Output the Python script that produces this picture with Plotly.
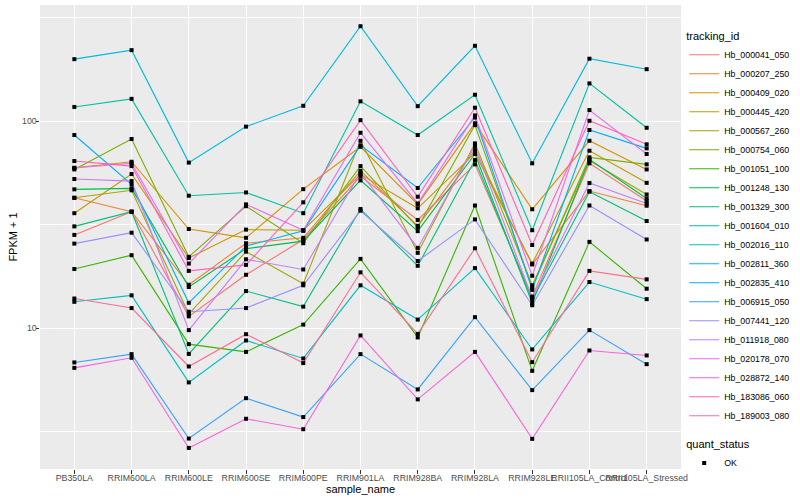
import plotly.graph_objects as go

samples = ["PB350LA", "RRIM600LA", "RRIM600LE", "RRIM600SE", "RRIM600PE", "RRIM901LA",
           "RRIM928BA", "RRIM928LA", "RRIM928LE", "RRII105LA_Control", "RRII105LA_Stressed"]

# FPKM + 1 values
Hb_000041_050 = [28.2, 36.5, 11.4, 18.1, 26.8, 54.1, 33.3, 61.8, 14.2, 62.5, 41.1]
Hb_000207_250 = [42.6, 36.5, 16.2, 25.7, 27.3, 57.5, 31.2, 72.4, 20.3, 45.9, 39.0]
Hb_000409_020 = [59.5, 63.6, 30.1, 27.3, 46.9, 75.1, 39.6, 97.5, 37.5, 80.3, 58.4]
Hb_000445_420 = [35.9, 55.5, 21.8, 29.9, 29.7, 55.3, 37.9, 70.0, 20.5, 71.9, 50.3]
Hb_000567_260 = [42.6, 46.3, 11.7, 23.4, 16.4, 80.3, 23.1, 78.0, 16.1, 64.4, 44.2]
Hb_000754_060 = [58.4, 81.9, 22.1, 38.8, 25.7, 60.6, 30.7, 95.6, 15.7, 66.8, 61.8]
Hb_001051_100 = [19.3, 22.5, 8.37, 7.68, 10.4, 21.6, 9.02, 39.1, 6.22, 26.1, 15.5]
Hb_001248_130 = [46.8, 47.3, 15.8, 24.2, 26.3, 51.7, 29.4, 69.3, 13.2, 65.3, 42.3]
Hb_001329_300 = [31.0, 36.5, 7.51, 15.1, 12.7, 37.6, 20.0, 64.8, 13.7, 45.6, 32.9]
Hb_001604_010 = [117, 128, 43.6, 45.2, 35.9, 124.5, 85.6, 134, 29.7, 152, 92.8]
Hb_002016_110 = [13.4, 14.4, 5.47, 8.72, 7.14, 16.1, 11.0, 19.5, 7.89, 16.7, 13.8]
Hb_002811_360 = [199, 220, 63.0, 94.0, 118.5, 287, 118, 231, 62.5, 200, 178]
Hb_002835_410 = [85.6, 49.5, 13.25, 24.9, 29.5, 76.3, 47.5, 104, 15.3, 90.5, 73.8]
Hb_006915_050 = [6.83, 7.49, 2.93, 4.59, 3.72, 7.49, 5.06, 11.3, 5.02, 9.78, 6.70]
Hb_007441_120 = [25.6, 28.9, 12.0, 12.5, 16.1, 36.9, 21.1, 33.5, 12.9, 39.1, 26.8]
Hb_011918_080 = [52.5, 51.3, 9.78, 21.5, 19.2, 56.3, 24.4, 75.8, 14.0, 50.2, 40.0]
Hb_020178_070 = [59.3, 62.5, 20.5, 39.6, 29.7, 87.8, 40.0, 106.5, 17.9, 113, 69.3]
Hb_028872_140 = [6.43, 7.19, 2.64, 3.65, 3.25, 9.22, 4.53, 7.68, 2.92, 7.80, 7.38]
Hb_183086_060 = [64.1, 60.6, 18.9, 20.2, 40.5, 101, 43.1, 116, 25.2, 100.3, 77.2]
Hb_189003_080 = [13.9, 12.5, 6.53, 9.35, 6.78, 18.6, 9.38, 24.3, 6.85, 18.9, 17.2]

tracking_ids = ["Hb_000041_050", "Hb_000207_250", "Hb_000409_020", "Hb_000445_420",
                "Hb_000567_260", "Hb_000754_060", "Hb_001051_100", "Hb_001248_130",
                "Hb_001329_300", "Hb_001604_010", "Hb_002016_110", "Hb_002811_360",
                "Hb_002835_410", "Hb_006915_050", "Hb_007441_120", "Hb_011918_080",
                "Hb_020178_070", "Hb_028872_140", "Hb_183086_060", "Hb_189003_080"]
series_values = [Hb_000041_050, Hb_000207_250, Hb_000409_020, Hb_000445_420,
                 Hb_000567_260, Hb_000754_060, Hb_001051_100, Hb_001248_130,
                 Hb_001329_300, Hb_001604_010, Hb_002016_110, Hb_002811_360,
                 Hb_002835_410, Hb_006915_050, Hb_007441_120, Hb_011918_080,
                 Hb_020178_070, Hb_028872_140, Hb_183086_060, Hb_189003_080]
colors = ["#F8766D", "#EA8331", "#D89000", "#C09B00", "#A3A500", "#7CAE00", "#39B600",
          "#00BB4E", "#00BF7D", "#00C1A3", "#00BFC4", "#00BAE0", "#00B0F6", "#35A2FF",
          "#9590FF", "#C77CFF", "#E76BF3", "#FA62DB", "#FF62BC", "#FF6C91"]

FONT = "Liberation Sans, Arial, Helvetica, sans-serif"

fig = go.Figure()
for name, vals, col in zip(tracking_ids, series_values, colors):
    fig.add_trace(go.Scatter(x=samples, y=vals, mode="lines", name=name,
                             line=dict(color=col, width=1.1), legend="legend"))

all_x = [s for vals in series_values for s in samples]
all_y = [v for vals in series_values for v in vals]
fig.add_trace(go.Scatter(x=all_x, y=all_y, mode="markers", name="OK",
                         marker=dict(symbol="square", size=4, color="black"),
                         legend="legend2"))

fig.update_layout(
    width=800, height=500,
    margin=dict(l=40, r=116, t=5, b=31),
    paper_bgcolor="white", plot_bgcolor="#EBEBEB",
    font=dict(family=FONT, size=9, color="#4D4D4D"),
    showlegend=True,
    xaxis=dict(type="category", categoryorder="array", categoryarray=samples,
               range=[-0.6, 10.6], showgrid=True, gridcolor="white", gridwidth=1.1,
               ticks="outside", ticklen=3.5, tickcolor="#333333", tickwidth=1,
               tickangle=0, tickfont=dict(size=8.8, color="#4D4D4D", family=FONT),
               ticklabelstandoff=-3,
               zeroline=False, showline=False, automargin=False,
               title=dict(text="sample_name", font=dict(size=11, color="black", family=FONT),
                          standoff=2)),
    yaxis=dict(type="log", range=[0.3198, 2.5604], tickvals=[10, 100], ticktext=["10", "100"],
               showgrid=True, gridcolor="white", gridwidth=1.1,
               minor=dict(tickvals=[3.1623, 31.623, 316.23], showgrid=True,
                          gridcolor="white", gridwidth=0.55, ticks=""),
               ticks="outside", ticklen=3.5, tickcolor="#333333", tickwidth=1,
               tickfont=dict(size=8.8, color="#4D4D4D", family=FONT),
               ticklabelstandoff=-3,
               zeroline=False, showline=False, automargin=False,
               title=dict(text="FPKM + 1", font=dict(size=11, color="black", family=FONT),
                          standoff=2)),
    legend=dict(title=dict(text="tracking_id", font=dict(size=11, color="black", family=FONT)),
                x=1.005, xanchor="left", y=0.955, yanchor="top",
                font=dict(size=8.8, color="black", family=FONT),
                bgcolor="rgba(0,0,0,0)", tracegroupgap=0, itemwidth=30),
    legend2=dict(title=dict(text="quant_status", font=dict(size=11, color="black", family=FONT)),
                 x=1.005, xanchor="left", y=0.075, yanchor="top",
                 font=dict(size=8.8, color="black", family=FONT),
                 bgcolor="rgba(0,0,0,0)", itemwidth=30),
)

fig.write_html("out.html", config={"displayModeBar": False},
               post_script="document.body.style.margin='0';")
